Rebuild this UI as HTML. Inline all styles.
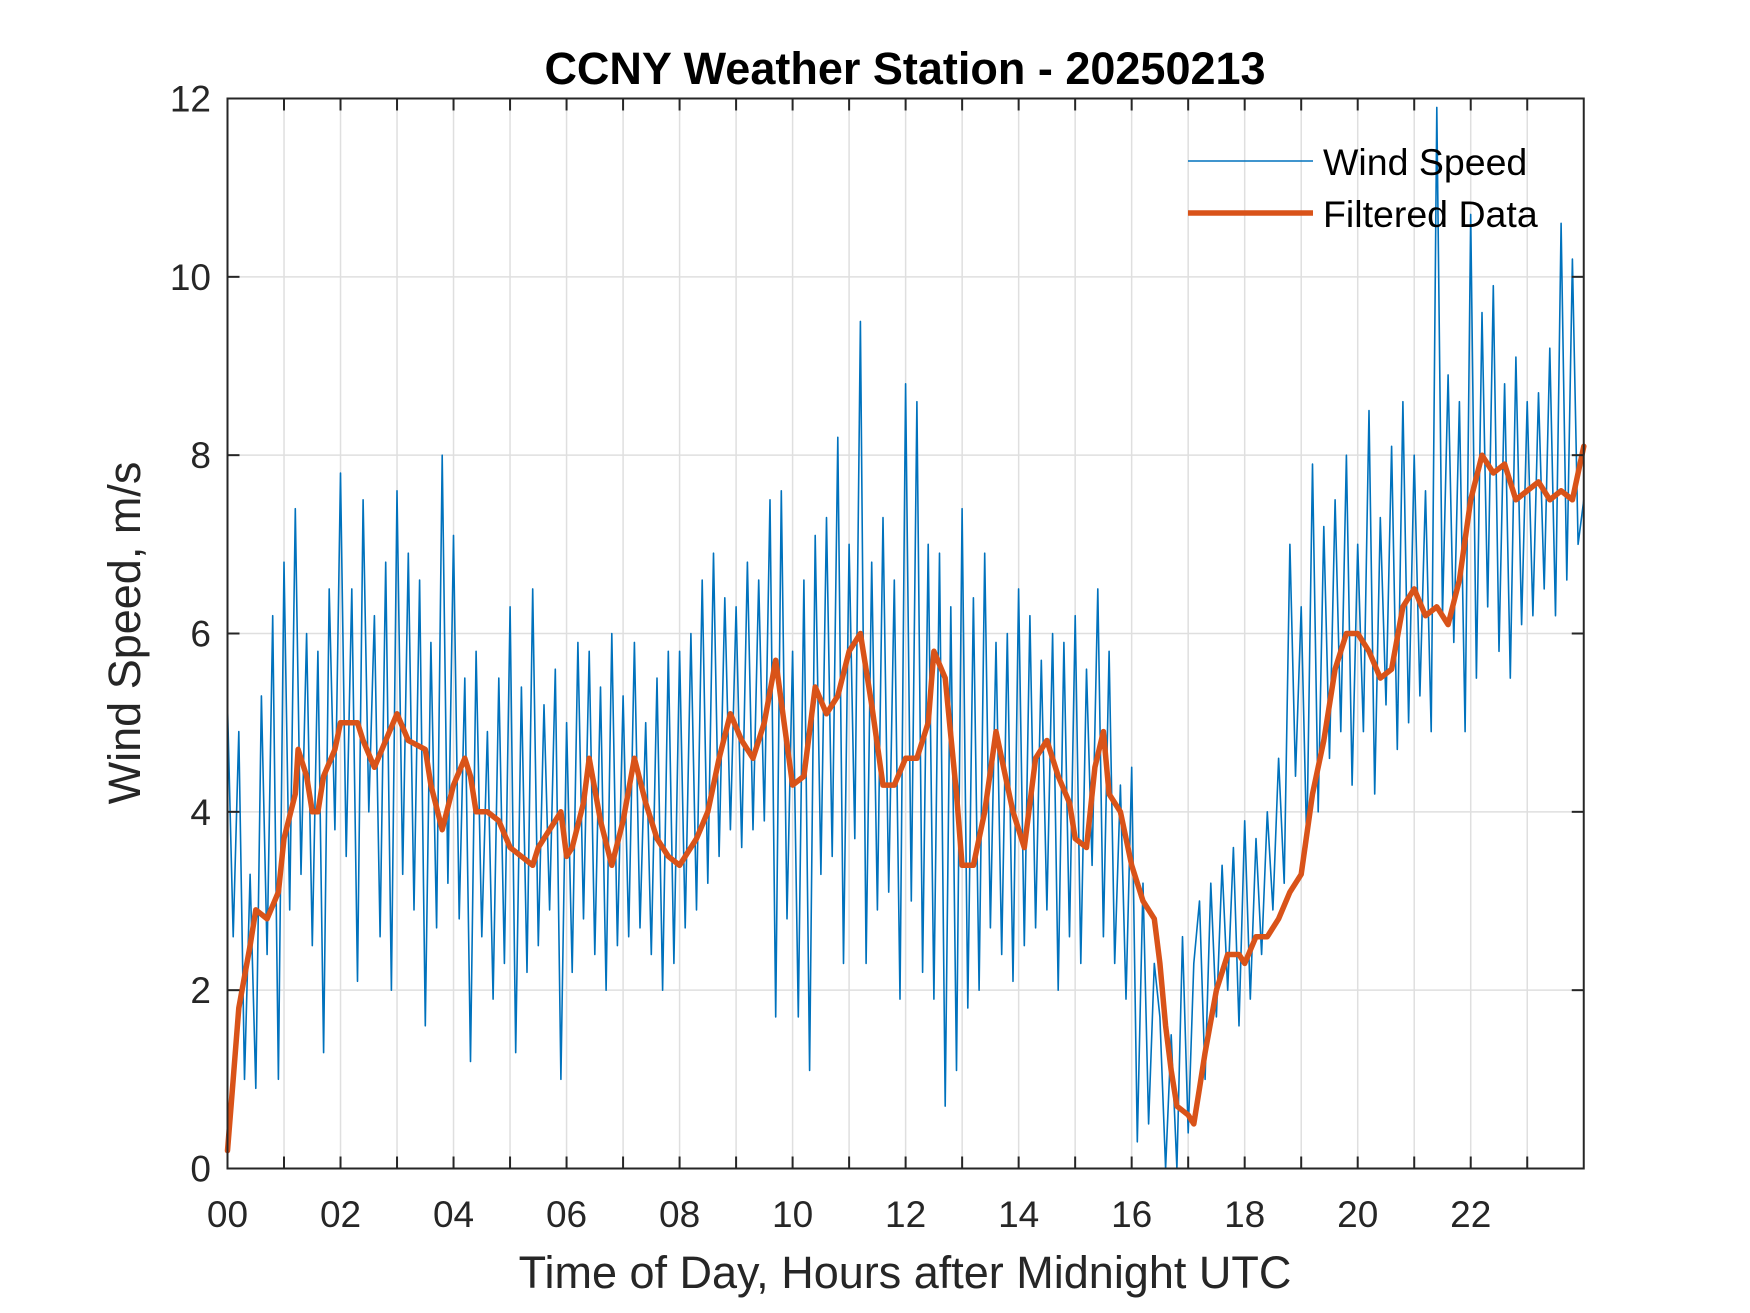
<!DOCTYPE html>
<html><head><meta charset="utf-8"><style>
html,body{margin:0;padding:0;background:#fff;}
svg{display:block;font-family:"Liberation Sans",Arial,sans-serif;}
</style></head><body>
<svg id="chart" width="1750" height="1313" viewBox="0 0 1750 1313" xmlns="http://www.w3.org/2000/svg">
<rect width="1750" height="1313" fill="#fff"/>
<g id="grid"></g>
<g id="series"></g>
<rect x="227.5" y="98.5" width="1356.25" height="1070" fill="none" stroke="#262626" stroke-width="2"/>
<g id="ticks"></g>
<text x="905" y="84" text-anchor="middle" font-size="45" font-weight="bold" fill="#000">CCNY Weather Station - 20250213</text>
<text x="905" y="1288" text-anchor="middle" font-size="45" fill="#262626">Time of Day, Hours after Midnight UTC</text>
<text transform="translate(140,633) rotate(-90)" text-anchor="middle" font-size="45" fill="#262626">Wind Speed, m/s</text>
<g>
<line x1="1188" y1="161" x2="1313" y2="161" stroke="#0072BD" stroke-width="1.5"/>
<text x="1323" y="175" font-size="37.5" fill="#000">Wind Speed</text>
<line x1="1188" y1="213" x2="1313" y2="213" stroke="#D95319" stroke-width="5.5"/>
<text x="1323" y="227" font-size="37.5" fill="#000">Filtered Data</text>
</g>
</svg>
<script>
const rawValues = [
5.2,2.6,4.9,1.0,3.3,0.9,5.3,2.4,6.2,1.0,
6.8,2.9,7.4,3.3,6.0,2.5,5.8,1.3,6.5,3.8,
7.8,3.5,6.5,2.1,7.5,4.0,6.2,2.6,6.8,2.0,
7.6,3.3,6.9,2.9,6.6,1.6,5.9,2.7,8.0,3.2,
7.1,2.8,5.5,1.2,5.8,2.6,4.9,1.9,5.5,2.3,
6.3,1.3,5.4,2.2,6.5,2.5,5.2,2.9,5.6,1.0,
5.0,2.2,5.9,2.8,5.8,2.4,5.4,2.0,6.0,2.5,
5.3,2.6,5.9,2.7,5.0,2.4,5.5,2.0,5.8,2.3,
5.8,2.7,6.0,2.9,6.6,3.2,6.9,3.5,6.4,3.8,
6.3,3.6,6.8,3.8,6.6,3.9,7.5,1.7,7.6,2.8,
5.8,1.7,6.6,1.1,7.1,3.3,7.3,3.5,8.2,2.3,
7.0,3.7,9.5,2.3,6.8,2.9,7.3,3.1,6.6,1.9,
8.8,3.0,8.6,2.2,7.0,1.9,6.9,0.7,6.3,1.1,
7.4,1.8,6.4,2.0,6.9,2.7,5.9,2.4,6.0,2.1,
6.5,2.5,6.2,2.7,5.7,2.9,6.0,2.0,5.9,2.6,
6.2,2.3,5.6,3.4,6.5,2.6,5.8,2.3,4.3,1.9,
4.5,0.3,3.2,0.5,2.3,1.7,0.0,1.5,0.0,2.6,
0.4,2.3,3.0,1.0,3.2,1.7,3.4,2.0,3.6,1.6,
3.9,1.9,3.7,2.4,4.0,2.9,4.6,3.2,7.0,4.4,
6.3,3.6,7.9,4.0,7.2,4.6,7.5,4.9,8.0,4.3,
7.0,4.9,8.5,4.2,7.3,5.2,8.1,4.7,8.6,5.0,
8.0,5.3,7.6,4.9,11.9,6.2,8.9,5.9,8.6,4.9,
10.7,5.5,9.6,6.3,9.9,5.8,8.8,5.5,9.1,6.1,
8.6,6.2,8.7,6.5,9.2,6.2,10.6,6.6,10.2,7.0,7.5
];
const rawHourStep = 0.1;
const filtHours = [0,0.1,0.2,0.4,0.5,0.7,0.9,1.0,1.2,1.25,1.4,1.5,1.6,1.7,1.9,2.0,2.3,2.4,2.6,2.8,3.0,3.2,3.5,3.6,3.8,4.0,4.2,4.3,4.4,4.6,4.8,5.0,5.2,5.4,5.5,5.7,5.9,6.0,6.1,6.3,6.4,6.6,6.8,7.0,7.2,7.4,7.6,7.8,8.0,8.3,8.5,8.7,8.9,9.1,9.3,9.5,9.7,9.85,10.0,10.2,10.4,10.6,10.8,11.0,11.2,11.4,11.6,11.8,12.0,12.2,12.4,12.5,12.7,12.9,13.0,13.2,13.4,13.6,13.8,13.9,14.1,14.3,14.5,14.7,14.9,15.0,15.2,15.35,15.5,15.6,15.8,16.0,16.2,16.4,16.5,16.6,16.7,16.8,17.0,17.1,17.2,17.3,17.5,17.7,17.9,18.0,18.2,18.4,18.6,18.8,19.0,19.2,19.4,19.6,19.8,20.0,20.2,20.4,20.6,20.8,21.0,21.2,21.4,21.6,21.8,22.0,22.2,22.4,22.6,22.8,23.0,23.2,23.4,23.6,23.8,24.0];
const filtValues = [0.2,1.0,1.8,2.5,2.9,2.8,3.1,3.7,4.2,4.7,4.4,4.0,4.0,4.4,4.7,5.0,5.0,4.8,4.5,4.8,5.1,4.8,4.7,4.3,3.8,4.3,4.6,4.4,4.0,4.0,3.9,3.6,3.5,3.4,3.6,3.8,4.0,3.5,3.6,4.1,4.6,3.9,3.4,3.9,4.6,4.1,3.7,3.5,3.4,3.7,4.0,4.6,5.1,4.8,4.6,5.0,5.7,5.0,4.3,4.4,5.4,5.1,5.3,5.8,6.0,5.2,4.3,4.3,4.6,4.6,5.0,5.8,5.5,4.2,3.4,3.4,4.0,4.9,4.3,4.0,3.6,4.6,4.8,4.4,4.1,3.7,3.6,4.5,4.9,4.2,4.0,3.4,3.0,2.8,2.3,1.6,1.1,0.7,0.6,0.5,0.9,1.3,2.0,2.4,2.4,2.3,2.6,2.6,2.8,3.1,3.3,4.2,4.8,5.6,6.0,6.0,5.8,5.5,5.6,6.3,6.5,6.2,6.3,6.1,6.6,7.5,8.0,7.8,7.9,7.5,7.6,7.7,7.5,7.6,7.5,8.1];
const xTickHours = [0,1,2,3,4,5,6,7,8,9,10,11,12,13,14,15,16,17,18,19,20,21,22,23];
const xTickLabels = ["00","","02","","04","","06","","08","","10","","12","","14","","16","","18","","20","","22",""];
const yTicks = [0,2,4,6,8,10,12];

const X0=227.5,X1=1583.75,Y0=1168.5,Y1=98.5;
const xs=h=>X0+(h/24)*(X1-X0);
const ys=v=>Y0-(v/12)*(Y0-Y1);
const NS="http://www.w3.org/2000/svg";
const grid=document.getElementById('grid'),ticks=document.getElementById('ticks'),series=document.getElementById('series');
function mk(tag,attrs){const e=document.createElementNS(NS,tag);for(const k in attrs)e.setAttribute(k,attrs[k]);return e;}
xTickHours.forEach((h,i)=>{
  const g=mk('line',{x1:xs(h),x2:xs(h),y1:Y1,y2:Y0,stroke:'#dfdfdf','stroke-width':1.5});
  
  
  grid.appendChild(g);
  [[Y0,Y0-12],[Y1,Y1+12]].forEach(p=>{
    const t=mk('line',{x1:xs(h),x2:xs(h),y1:p[0],y2:p[1],stroke:'#262626','stroke-width':2});
    
    
    ticks.appendChild(t);
  });
  if(xTickLabels[i]){
    const tx=mk('text',{x:xs(h),y:1227,'text-anchor':'middle','font-size':37,fill:'#262626'});
    tx.textContent=xTickLabels[i];
    
    
    ticks.appendChild(tx);
  }
});
yTicks.forEach(v=>{
  const g=mk('line',{x1:X0,x2:X1,y1:ys(v),y2:ys(v),stroke:'#dfdfdf','stroke-width':1.5});
  
  
  grid.appendChild(g);
  [[X0,X0+12],[X1,X1-12]].forEach(p=>{
    const t=mk('line',{x1:p[0],x2:p[1],y1:ys(v),y2:ys(v),stroke:'#262626','stroke-width':2});
    
    
    ticks.appendChild(t);
  });
  const tx=mk('text',{x:211,y:ys(v)+13,'text-anchor':'end','font-size':37,fill:'#262626'});
  tx.textContent=String(v);
  
  
  ticks.appendChild(tx);
});
const rawPts=rawValues.map((v,i)=>xs(Math.min(i*rawHourStep,24)).toFixed(1)+','+ys(v).toFixed(1)).join(' ');
const raw=mk('polyline',{points:rawPts,fill:'none',stroke:'#0072BD','stroke-width':1.6,'stroke-linejoin':'round'});


series.appendChild(raw);
const fPts=filtHours.map((h,i)=>xs(h).toFixed(1)+','+ys(filtValues[i]).toFixed(1)).join(' ');
const filt=mk('polyline',{points:fPts,fill:'none',stroke:'#D95319','stroke-width':5.5,'stroke-linejoin':'round','stroke-linecap':'round'});


series.appendChild(filt);
</script>
</body></html>
